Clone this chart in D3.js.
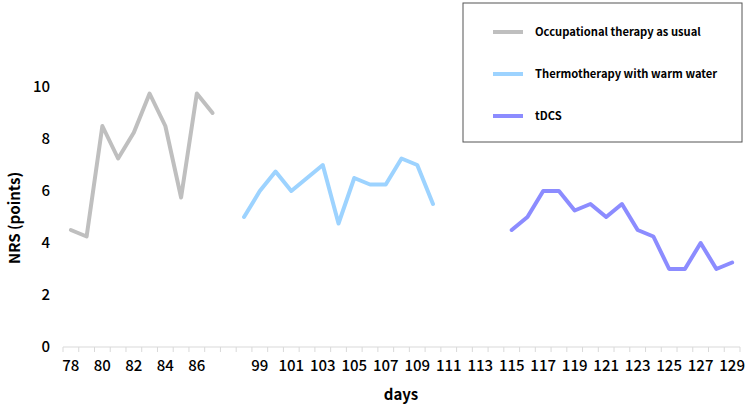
<html>
<head>
<style>
  body { margin: 0; background: #fff; }
  text { font-family: "Noto Sans CJK JP", "Noto Sans", sans-serif; fill: #000; }
</style>
<script src="https://d3js.org/d3.v7.min.js"></script>
</head>
<body>
<svg id="chart" width="750" height="406"></svg>
<script>
// x categories (days); "" is the empty gap slot after day 87
var days = ["78","79","80","81","82","83","84","85","86","87","",
  "98","99","100","101","102","103","104","105","106","107","108","109","110",
  "111","112","113","114","115","116","117","118","119","120","121","122",
  "123","124","125","126","127","128","129"];

var otDays = ["78","79","80","81","82","83","84","85","86","87"];
var otValues = [4.5, 4.25, 8.5, 7.25, 8.25, 9.75, 8.5, 5.75, 9.75, 9];

var warmDays = ["98","99","100","101","102","103","104","105","106","107","108","109","110"];
var warmValues = [5, 6, 6.75, 6, 6.5, 7, 4.75, 6.5, 6.25, 6.25, 7.25, 7, 5.5];

var tdcsDays = ["115","116","117","118","119","120","121","122","123","124","125","126","127","128","129"];
var tdcsValues = [4.5, 5, 6, 6, 5.25, 5.5, 5, 5.5, 4.5, 4.25, 3, 3, 4, 3, 3.25];

var yTicks = [0, 2, 4, 6, 8, 10];

var seriesNames = ["Occupational therapy as usual", "Thermotherapy with warm water", "tDCS"];
var seriesColors = ["#bfbfbf", "#9dd3ff", "#8c8cff"];

var svg = d3.select("#chart");

var x = d3.scaleBand().domain(days).range([63, 740]).padding(0);
var y = d3.scaleLinear().domain([0, 10]).range([347, 87]);

// x axis line + ticks between categories
var xAxis = svg.append("g");
xAxis.append("line")
  .attr("x1", 63).attr("x2", 740).attr("y1", y(0)).attr("y2", y(0))
  .attr("stroke", "#d9d9d9").attr("stroke-width", 1);
xAxis.selectAll(".tk")
  .data(days.concat(["end"]))
  .enter().append("line")
  .attr("x1", function (d, i) { return 63 + i * x.bandwidth(); })
  .attr("x2", function (d, i) { return 63 + i * x.bandwidth(); })
  .attr("y1", y(0)).attr("y2", y(0) + 5)
  .attr("stroke", "#d9d9d9").attr("stroke-width", 1);
xAxis.selectAll(".lab")
  .data(days)
  .enter().append("text")
  .attr("x", function (d) { return x(d) + x.bandwidth() / 2; })
  .attr("y", 371)
  .attr("text-anchor", "middle")
  .attr("font-size", 15)
  .attr("font-weight", 500)
  .text(function (d, i) { return i % 2 === 0 ? d : ""; });

// y axis labels (no line)
svg.selectAll(".ylab")
  .data(yTicks)
  .enter().append("text")
  .attr("x", 50)
  .attr("y", function (d) { return y(d) + 5; })
  .attr("text-anchor", "end")
  .attr("font-size", 15)
  .attr("font-weight", 500)
  .text(function (d) { return d; });

svg.append("text")
  .attr("transform", "translate(20,218) rotate(-90)")
  .attr("text-anchor", "middle")
  .attr("font-size", 15)
  .attr("font-weight", 700)
  .text("NRS (points)");

svg.append("text")
  .attr("x", 401).attr("y", 400)
  .attr("text-anchor", "middle")
  .attr("font-size", 15)
  .attr("font-weight", 700)
  .text("days");

var line = d3.line()
  .x(function (d) { return x(d[0]) + x.bandwidth() / 2; })
  .y(function (d) { return y(d[1]); });

var series = [
  d3.zip(otDays, otValues),
  d3.zip(warmDays, warmValues),
  d3.zip(tdcsDays, tdcsValues)
];

svg.selectAll(".series")
  .data(series)
  .enter().append("path")
  .attr("d", line)
  .attr("fill", "none")
  .attr("stroke", function (d, i) { return seriesColors[i]; })
  .attr("stroke-width", 4)
  .attr("stroke-linejoin", "round")
  .attr("stroke-linecap", "round");

// legend
var legend = svg.append("g");
legend.append("rect")
  .attr("x", 463).attr("y", 3).attr("width", 279).attr("height", 139)
  .attr("fill", "#fff").attr("stroke", "#555").attr("stroke-width", 1);
var items = legend.selectAll(".item")
  .data(seriesNames)
  .enter().append("g")
  .attr("transform", function (d, i) { return "translate(0," + (32 + i * 42) + ")"; });
items.append("line")
  .attr("x1", 493).attr("x2", 523).attr("y1", 0).attr("y2", 0)
  .attr("stroke", function (d, i) { return seriesColors[i]; })
  .attr("stroke-width", 4);
items.append("text")
  .attr("x", 535).attr("y", 4)
  .attr("font-size", 11.2)
  .attr("font-weight", 700)
  .text(function (d) { return d; });
</script>
</body>
</html>
